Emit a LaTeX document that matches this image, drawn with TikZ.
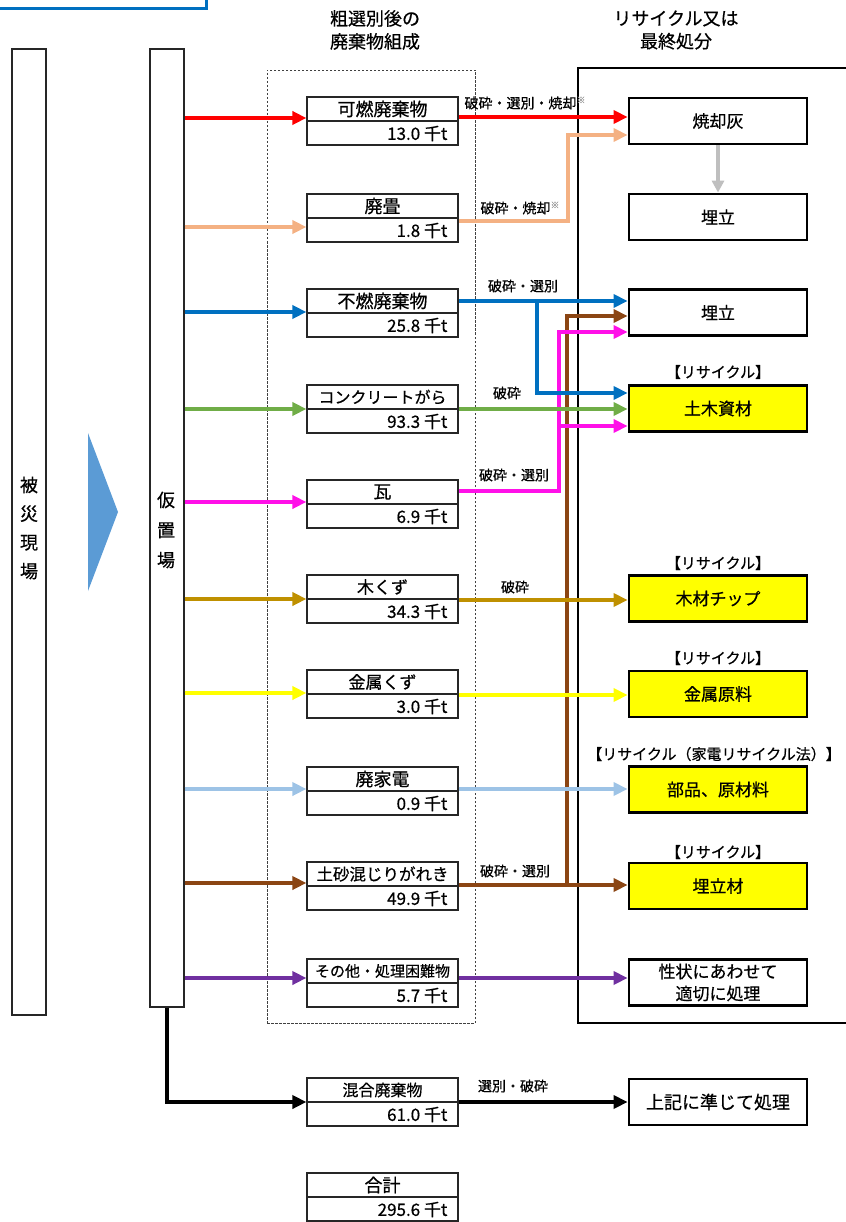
\documentclass[tikz,border=0pt]{standalone}
\usepackage{fontspec}
\setmainfont{Noto Sans CJK JP}[FakeBold=0.6]
\usetikzlibrary{arrows.meta,calc}
\definecolor{cRed}{HTML}{FF0000}
\definecolor{cOrange}{HTML}{F4B183}
\definecolor{cBlue}{HTML}{0070C0}
\definecolor{cGreen}{HTML}{70AD47}
\definecolor{cMag}{HTML}{FF10E8}
\definecolor{cGold}{HTML}{BF9000}
\definecolor{cYel}{HTML}{FFFF00}
\definecolor{cLBlue}{HTML}{9DC3E6}
\definecolor{cBrown}{HTML}{8B4513}
\definecolor{cPurple}{HTML}{7030A0}
\definecolor{cGray}{HTML}{BFBFBF}
\definecolor{cTri}{HTML}{5B9BD5}
\definecolor{cTop}{HTML}{0070C0}
\newcommand\kome{\raisebox{5pt}{\fontsize{9}{9}\selectfont\color{black!40}※}}
\newcommand\wastebox[5]{%
  \node[wbox] (#1) at (382.5,#2) {};
  \draw[line width=1.2pt,black!85] (#1.west) -- (#1.east);
  \node[font=\fontsize{#5}{#5}\selectfont, inner sep=0pt] (#1n) at ($(#1.center)+(0,-12)$) {#3};
  \node[font=\fontsize{17}{17}\selectfont, inner sep=0pt, anchor=east] (#1a) at ($(#1.east)+(-11,12.5)$) {#4};
}
\newcommand\leftarr[3]{\draw[flow,#1] ($(kari.east|-#2.west)+(0,#3)$) -- ($(#2.west)+(0,#3)$);}
\begin{document}
\begin{tikzpicture}[x=1pt,y=-1pt,
  wbox/.style={draw=black!85, line width=1.2pt, minimum width=151pt, minimum height=48pt, inner sep=0pt},
  rbox/.style={draw=black, line width=2.8pt, minimum width=178pt, minimum height=46pt, inner sep=0pt, font=\fontsize{17}{20}\selectfont},
  ybox/.style={rbox, fill=cYel},
  flow/.style={line width=4.5pt, -{Triangle[length=14pt,width=13pt]}},
  lab/.style={font=\fontsize{14}{16}\selectfont, inner sep=0pt},
  rlab/.style={font=\fontsize{15}{17}\selectfont, inner sep=0pt},
  col/.style={draw=black!85, line width=1.2pt, minimum width=34pt, inner sep=0pt},
]
\useasboundingbox (0,0) rectangle (845,1222);
% top partial blue frame
\draw[line width=3pt, cTop] (0,9) -- (206,9) -- (206,-3);
% headers
\node[font=\fontsize{18}{23}\selectfont, align=center] (h1) at (375,30) {粗選別後の\\廃棄物組成};
\node[font=\fontsize{18}{23}\selectfont, align=center] (h2) at (676,30) {リサイクル又は\\最終処分};
% frames
\node[draw=black!75, dash pattern=on 2.5pt off 1.5pt, line width=0.9pt, minimum width=208pt, minimum height=953pt, inner sep=0pt] (grp) at (371,546.5) {};
\draw[line width=1.6pt] (850,68) -- (578,68) -- (578,1023) -- (850,1023);
% left columns
\node[col, minimum height=966pt] (hisai) at (29,532) {};
\node[font=\fontsize{18}{28.7}\selectfont, align=center] (hisaiT) at (29,528) {被\\災\\現\\場};
\node[col, minimum height=958pt] (kari) at (167,528) {};
\node[font=\fontsize{18}{30}\selectfont, align=center] (kariT) at (166,530) {仮\\置\\場};
\fill[cTri] (88,433) -- (118,512) -- (88,591) -- cycle;
% waste boxes
\wastebox{w1}{121}{可燃廃棄物}{13.0 千t}{18}
\wastebox{w2}{218}{廃畳}{1.8 千t}{18}
\wastebox{w3}{313}{不燃廃棄物}{25.8 千t}{18}
\wastebox{w4}{409}{コンクリートがら}{93.3 千t}{16}
\wastebox{w5}{504}{瓦}{6.9 千t}{18}
\wastebox{w6}{599}{木くず}{34.3 千t}{17}
\wastebox{w7}{694}{金属くず}{3.0 千t}{17}
\wastebox{w8}{791}{廃家電}{0.9 千t}{18}
\wastebox{w9}{886}{土砂混じりがれき}{49.9 千t}{16.5}
\wastebox{w10}{983}{その他・処理困難物}{5.7 千t}{15}
\wastebox{w11}{1102}{混合廃棄物}{61.0 千t}{16}
\wastebox{w12}{1197}{合計}{295.6 千t}{18}
% result boxes
\node[rbox] (r1) at (718,121) {焼却灰};
\node[rbox] (r2) at (718,217) {埋立};
\node[rbox] (r3) at (718,312.5) {埋立};
\node[ybox] (r4) at (718,408.5) {土木資材};
\node[ybox] (r5) at (718,598.5) {木材チップ};
\node[ybox] (r6) at (718,694) {金属原料};
\node[ybox] (r7) at (718,789.5) {部品、原材料};
\node[ybox] (r8) at (718,886) {埋立材};
\node[rbox, align=center, font=\fontsize{17}{22}\selectfont] (r9) at (718,982.5) {性状にあわせて\\適切に処理};
\node[rbox, font=\fontsize{18}{20}\selectfont] (r10) at (718,1102) {上記に準じて処理};
% recycle labels
\node[rlab] (q4) at (718,372) {【リサイクル】};
\node[rlab] (q5) at (718,563) {【リサイクル】};
\node[rlab] (q6) at (718,658) {【リサイクル】};
\node[rlab] (q7) at (714,754) {【リサイクル（家電リサイクル法）】};
\node[rlab] (q8) at (718,852) {【リサイクル】};
% left arrows
\leftarr{cRed}{w1}{-3}
\leftarr{cOrange}{w2}{9}
\leftarr{cBlue}{w3}{-1}
\leftarr{cGreen}{w4}{0}
\leftarr{cMag}{w5}{-2}
\leftarr{cGold}{w6}{0}
\leftarr{cYel}{w7}{-1}
\leftarr{cLBlue}{w8}{-2}
\leftarr{cBrown}{w9}{-3}
\leftarr{cPurple}{w10}{-5}
\draw[flow,black] (kari.south) |- (w11.west);
% branch verticals
\coordinate (brj) at (567,885);
\draw[flow,cBrown] (brj) |- ($(r3.west)+(0,3.5)$);
\coordinate (mx) at (559,450);
\draw[flow,cMag] ($(w5.east)+(0,-13)$) -| (mx) |- ($(r3.west)+(0,19.5)$);
\coordinate (mj) at (559,426);
\draw[flow,cMag] (mj) -- (mj -| r4.west);
\coordinate (obend) at (568,180);
\draw[flow,cOrange] ($(w2.east)+(0,3)$) -| (obend) |- ($(r1.west)+(0,14)$);
\coordinate (bj) at (537,301);
\draw[flow,cBlue] (bj) |- ($(r4.west)+(0,-15.5)$);
% straight right arrows
\draw[flow,cRed] ($(w1.east)+(0,-4)$) coordinate (t1) -- (t1 -| r1.west);
\draw[flow,cBlue] ($(w3.east)+(0,-12)$) coordinate (t3) -- (t3 -| r3.west);
\draw[flow,cGreen] (w4.east) -- (w4.east -| r4.west);
\draw[flow,cGold] ($(w6.east)+(0,1)$) coordinate (t6) -- (t6 -| r5.west);
\draw[flow,cYel] ($(w7.east)+(0,1)$) coordinate (t7) -- (t7 -| r6.west);
\draw[flow,cLBlue] ($(w8.east)+(0,-2)$) coordinate (t8) -- (t8 -| r7.west);
\draw[flow,cBrown] ($(w9.east)+(0,-1)$) coordinate (t9) -- (t9 -| r8.west);
\draw[flow,cPurple] ($(w10.east)+(0,-5)$) coordinate (t10) -- (t10 -| r9.west);
\draw[flow,black] (w11.east) -- (w11.east -| r10.west);
\draw[line width=3.5pt, cGray, -{Triangle[length=12pt,width=12pt]}] (r1.south) -- (r2.north);
% arrow labels
\node[lab] (l1) at (525,103) {破砕・選別・焼却\kome};
\node[lab] (l2) at (520,208) {破砕・焼却\kome};
\node[lab] (l3) at (523,286) {破砕・選別};
\node[lab] (l4) at (507,393) {破砕};
\node[lab] (l5) at (514,475) {破砕・選別};
\node[lab] (l6) at (515,587) {破砕};
\node[lab] (l7) at (515,871) {破砕・選別};
\node[lab] (l8) at (513,1086) {選別・破砕};
\end{tikzpicture}
\end{document}
